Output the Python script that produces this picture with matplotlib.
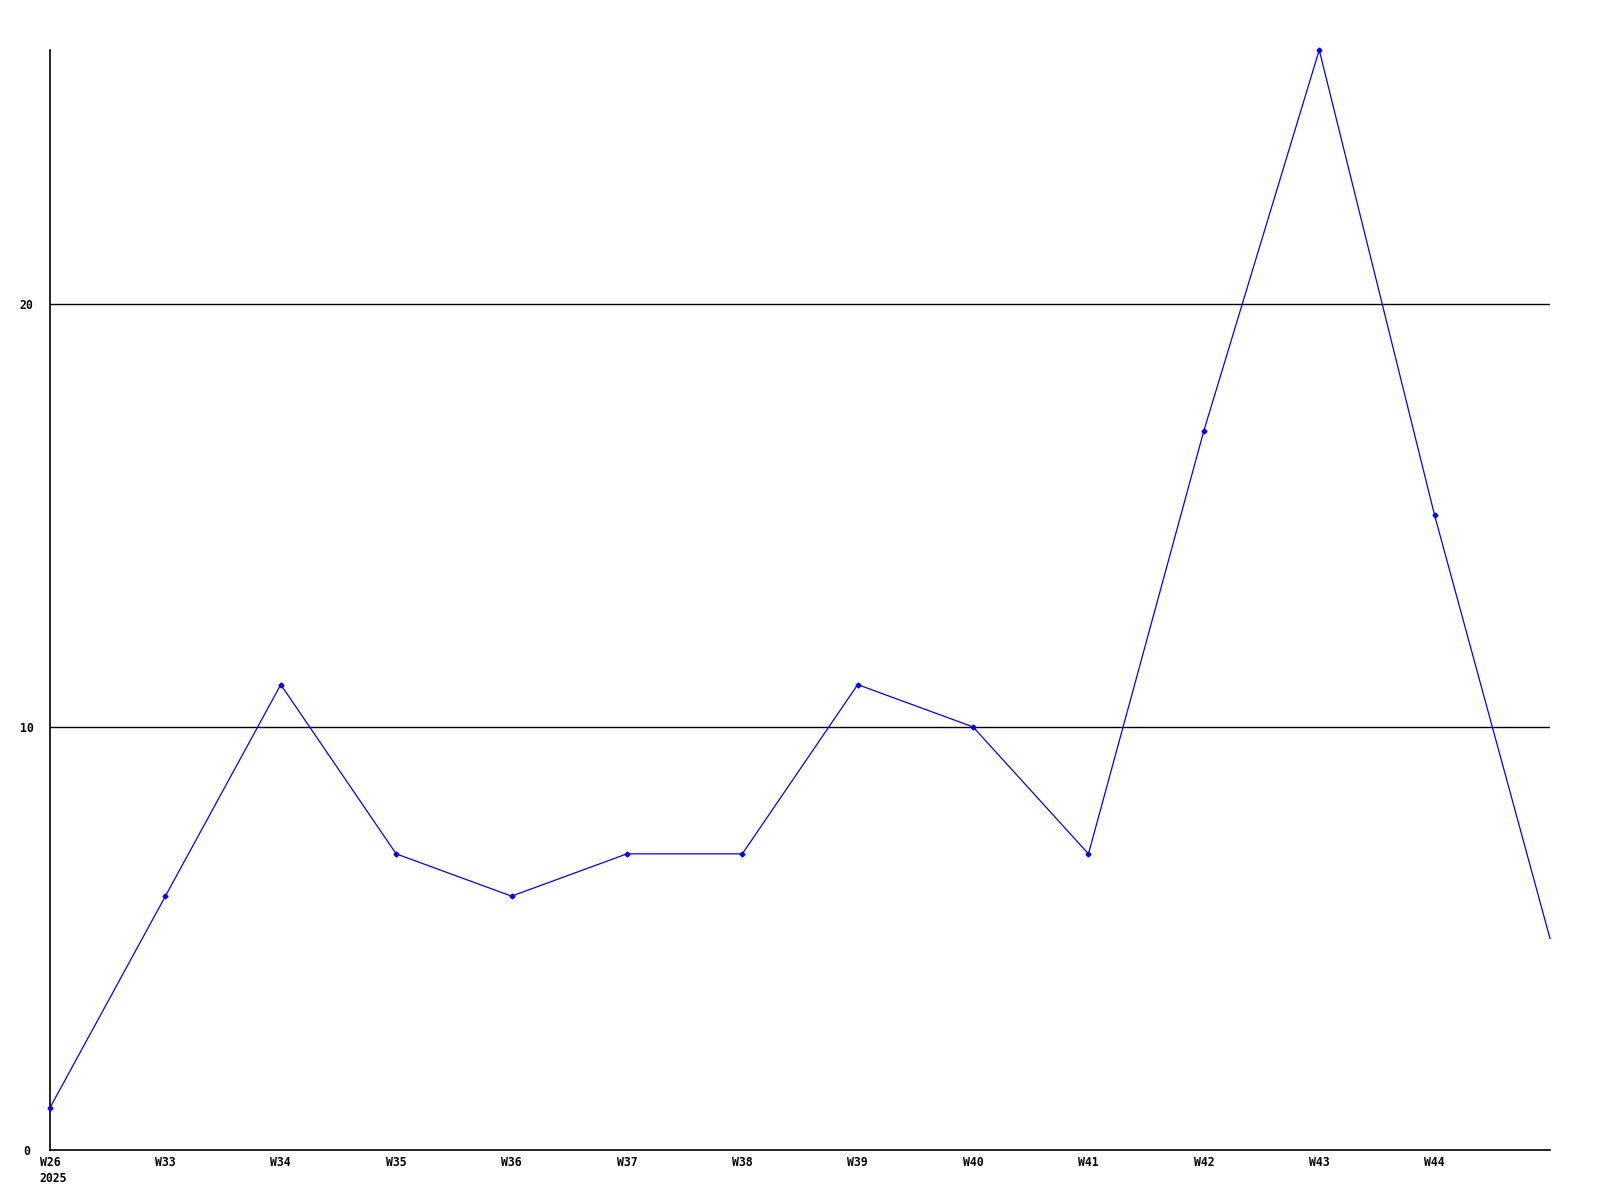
import matplotlib
matplotlib.use("Agg")
import matplotlib.pyplot as plt

weeks = ["W26", "W33", "W34", "W35", "W36", "W37", "W38", "W39", "W40", "W41", "W42", "W43", "W44"]
year = "2025"
values = [1, 6, 11, 7, 6, 7, 7, 11, 10, 7, 17, 26, 15, 5]
yticks = [0, 10, 20]

font = dict(family="DejaVu Sans Mono", fontweight="bold", fontsize=8.3)

fig = plt.figure(figsize=(16, 12), dpi=100)
ax = fig.add_axes([50/1600, 1 - 1150/1200, (1550 - 50)/1600, 1100/1200])

x = list(range(len(values)))
ax.plot(x, values, color="#0000ff", linewidth=0.9, marker="D", markersize=2.5,
        markevery=list(range(len(weeks))), zorder=3, clip_on=False)

for yv in yticks[1:]:
    ax.axhline(yv, color="black", linewidth=1.0, zorder=1)

ax.set_xlim(0, len(values) - 1)
ax.set_ylim(0, 26)
ax.set_xticks(range(len(weeks)))
ax.set_xticklabels(weeks, va="top", **font)
ax.set_yticks(yticks)
ax.set_yticklabels([str(v) for v in yticks], ha="center", **font)
ax.tick_params(axis="x", length=0, pad=4.5)
ax.tick_params(axis="y", length=0, pad=17)

ax.annotate(year, xy=(0, 0), xycoords=("data", "axes fraction"),
            xytext=(-10.5, -22), textcoords="offset pixels",
            ha="left", va="top", annotation_clip=False, **font)

for s in ["top", "right"]:
    ax.spines[s].set_visible(False)
for s in ["left", "bottom"]:
    ax.spines[s].set_linewidth(1.2)
    ax.spines[s].set_color("black")

fig.savefig("out.png", dpi=100, facecolor="white")
